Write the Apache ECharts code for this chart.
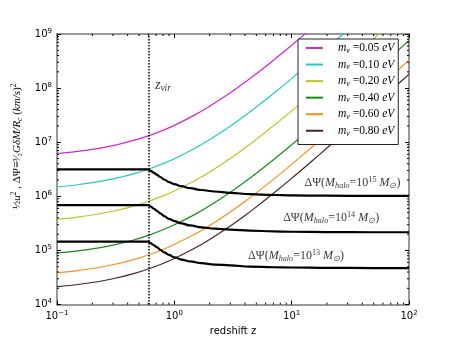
<!DOCTYPE html>
<html>
<head>
<meta charset="utf-8">
<script src="https://cdn.jsdelivr.net/npm/echarts@6/dist/echarts.min.js"></script>
<style>
html, body { margin: 0; padding: 0; background: #fff; }
#charts { width: 455px; height: 341px; }
</style>
</head>
<body>
<div id="charts"></div>
<script>
// redshift points used for the neutrino curves
var zNu = [0.1, 0.15, 0.2, 0.3, 0.45, 0.6, 0.8, 1, 1.5, 2, 3, 4, 5, 7, 10, 15, 20, 30, 50, 70, 100];
var nu005 = [6.2e6, 6.78e6, 7.38e6, 8.66e6, 1.08e7, 1.31e7, 1.66e7, 2.05e7, 3.2e7, 4.61e7, 8.2e7, 1.28e8, 1.84e8, 3.28e8, 6.2e8, 1.31e9];
var nu010 = [1.5e6, 1.64e6, 1.79e6, 2.1e6, 2.61e6, 3.17e6, 4.02e6, 4.96e6, 7.75e6, 1.12e7, 1.98e7, 3.1e7, 4.46e7, 7.93e7, 1.5e8, 3.17e8, 5.47e8, 1.19e9];
var nu020 = [3.8e5, 4.15e5, 4.52e5, 5.31e5, 6.6e5, 8.04e5, 1.02e6, 1.26e6, 1.96e6, 2.83e6, 5.02e6, 7.85e6, 1.13e7, 2.01e7, 3.8e7, 8.04e7, 1.39e8, 3.02e8, 8.17e8, 1.58e9];
var nu040 = [9.0e4, 9.84e4, 1.07e5, 1.26e5, 1.56e5, 1.9e5, 2.41e5, 2.98e5, 4.65e5, 6.69e5, 1.19e6, 1.86e6, 2.68e6, 4.76e6, 9.0e6, 1.9e7, 3.28e7, 7.15e7, 1.93e8, 3.75e8, 7.59e8];
var nu060 = [3.9e4, 4.26e4, 4.64e4, 5.45e4, 6.78e4, 8.25e4, 1.04e5, 1.29e5, 2.01e5, 2.9e5, 5.16e5, 8.06e5, 1.16e6, 2.06e6, 3.9e6, 8.25e6, 1.42e7, 3.1e7, 8.38e7, 1.62e8, 3.29e8];
var nu080 = [2.15e4, 2.35e4, 2.56e4, 3.0e4, 3.74e4, 4.55e4, 5.76e4, 7.11e4, 1.11e5, 1.6e5, 2.84e5, 4.44e5, 6.4e5, 1.14e6, 2.15e6, 4.55e6, 7.84e6, 1.71e7, 4.62e7, 8.96e7, 1.81e8];
var nuNames = ['m_ν =0.05 eV', 'm_ν =0.10 eV', 'm_ν =0.20 eV', 'm_ν =0.40 eV', 'm_ν =0.60 eV', 'm_ν =0.80 eV'];
var nuColors = ['#d126d1', '#26c8c8', '#c2c226', '#168c16', '#ff8c1a', '#4a2222'];

// halo potential curves
var zHalo = [0.1, 0.6, 0.63, 0.67, 0.71, 0.76, 0.82, 0.9, 1.0, 1.15, 1.36, 1.7, 2.2, 3, 4.4, 7, 10, 20, 50, 100];
var halo15 = [3.15e6, 3.15e6, 2.95e6, 2.72e6, 2.5e6, 2.28e6, 2.05e6, 1.84e6, 1.68e6, 1.54e6, 1.42e6, 1.31e6, 1.23e6, 1.16e6, 1.1e6, 1.06e6, 1.04e6, 1.03e6, 1.02e6, 1.02e6];
var halo14 = [6.9e5, 6.9e5, 6.45e5, 5.9e5, 5.4e5, 4.85e5, 4.3e5, 3.85e5, 3.5e5, 3.18e5, 2.9e5, 2.68e5, 2.53e5, 2.43e5, 2.33e5, 2.25e5, 2.22e5, 2.19e5, 2.17e5, 2.17e5];
var halo13 = [1.46e5, 1.46e5, 1.36e5, 1.25e5, 1.15e5, 1.03e5, 9.2e4, 8.3e4, 7.5e4, 6.8e4, 6.3e4, 5.85e4, 5.5e4, 5.3e4, 5.05e4, 4.9e4, 4.85e4, 4.78e4, 4.74e4, 4.73e4];
var haloExp = ['15', '14', '13'];
var haloLabelAt = [[33, 1.75e6], [21.7, 3.98e5], [10.9, 7.95e4]];

var zVir = 0.6;
var zVirLabelAt = [0.8, 1.12e8];

var xMinor = [0.2, 0.3, 0.4, 0.5, 0.6, 0.7, 0.8, 0.9, 2, 3, 4, 5, 6, 7, 8, 9, 20, 30, 40, 50, 60, 70, 80, 90];
var yMinor = [2e4, 3e4, 4e4, 5e4, 6e4, 7e4, 8e4, 9e4, 2e5, 3e5, 4e5, 5e5, 6e5, 7e5, 8e5, 9e5,
    2e6, 3e6, 4e6, 5e6, 6e6, 7e6, 8e6, 9e6, 2e7, 3e7, 4e7, 5e7, 6e7, 7e7, 8e7, 9e7,
    2e8, 3e8, 4e8, 5e8, 6e8, 7e8, 8e8, 9e8];

function pairs(xs, ys) {
    var out = [];
    for (var i = 0; i < ys.length; i++) out.push([xs[i], ys[i]]);
    return out;
}

var serif = 'Liberation Serif';
function mathRich(size) {
    return {
        t: { fontFamily: serif, fontSize: size, color: '#000', lineHeight: size + 2 },
        i: { fontFamily: serif, fontStyle: 'italic', fontSize: size, color: '#000', lineHeight: size + 2 },
        sub: { fontFamily: serif, fontStyle: 'italic', fontSize: size * 0.68, color: '#000', verticalAlign: 'bottom', lineHeight: 9 },
        sup: { fontFamily: serif, fontSize: size * 0.68, color: '#000', verticalAlign: 'top', lineHeight: 9 },
        g: { width: 10 }
    };
}
var tickRich = {
    b: { fontFamily: 'DejaVu Sans', fontSize: 10, color: '#000', lineHeight: 13 },
    e: { fontFamily: 'DejaVu Sans', fontSize: 7, color: '#000', verticalAlign: 'top', lineHeight: 8 }
};
function powLabel(v) {
    var e = Math.round(Math.log(v) / Math.LN10);
    return '{b|10}{e|' + (e < 0 ? '−' + (-e) : e) + '}';
}

var frame = { show: true, lineStyle: { color: '#777', width: 1.5 } };

function logAxis(pos, min, max, labels) {
    return {
        type: 'log', logBase: 10, min: min, max: max, position: pos,
        axisLine: frame,
        axisTick: { show: true, inside: true, length: 4, lineStyle: { color: '#000', width: 1 } },
        axisLabel: { show: labels, formatter: powLabel, rich: tickRich, margin: 5 },
        splitLine: { show: false }
    };
}

var xAxes = [logAxis('bottom', 0.1, 100, true), logAxis('top', 0.1, 100, false)];
xAxes[0].name = 'redshift z';
xAxes[0].nameLocation = 'middle';
xAxes[0].nameGap = 17;
xAxes[0].nameTextStyle = { fontFamily: 'DejaVu Sans', fontSize: 10, color: '#000' };

var yAxes = [logAxis('left', 1e4, 1e9, true), logAxis('right', 1e4, 1e9, false)];
yAxes[0].name = '{t|½}{i|u}{sup|2}{t| , ΔΨ≡}{t|³⁄₂}{i|GδM/R}{sub|c}{t| (}{i|km/s}{t|)}{sup|2}';
yAxes[0].nameLocation = 'middle';
yAxes[0].nameGap = 26;
yAxes[0].nameTextStyle = { rich: mathRich(11), padding: [0, 0, 0, 46] };

var nuData = [nu005, nu010, nu020, nu040, nu060, nu080];
var series = [];
nuData.forEach(function (vals, i) {
    series.push({
        name: nuNames[i], type: 'line', symbol: 'none', smooth: 0.3,
        lineStyle: { color: nuColors[i], width: 1.2 }, itemStyle: { color: nuColors[i] },
        data: pairs(zNu, vals), z: 2
    });
});
[halo15, halo14, halo13].forEach(function (vals, i) {
    var s = {
        name: 'halo' + haloExp[i], type: 'line', symbol: 'none', smooth: 0.4, smoothMonotone: 'x',
        lineStyle: { color: '#000', width: 2.2 }, itemStyle: { color: '#000' },
        data: pairs(zHalo, vals), z: 3
    };
    if (i === 0) {
        s.markLine = {
            silent: true, symbol: 'none', label: { show: false },
            lineStyle: { color: '#000', type: 'dotted', width: 1.5 },
            data: [{ xAxis: zVir }]
        };
    }
    series.push(s);
});

// minor ticks on all four sides, placed through the axes' own scales
series.push({
    type: 'custom', silent: true, z: 5,
    data: xMinor.map(function (v) { return [v, 1e4]; }),
    renderItem: function (params, api) {
        var b = api.coord([api.value(0), 1e4]);
        var t = api.coord([api.value(0), 1e9]);
        var st = { stroke: '#000', lineWidth: 1 };
        return { type: 'group', children: [
            { type: 'line', shape: { x1: b[0], y1: b[1], x2: b[0], y2: b[1] - 2 }, style: st },
            { type: 'line', shape: { x1: t[0], y1: t[1], x2: t[0], y2: t[1] + 2 }, style: st }
        ] };
    }
});
series.push({
    type: 'custom', silent: true, z: 5,
    data: yMinor.map(function (v) { return [0.1, v]; }),
    renderItem: function (params, api) {
        var l = api.coord([0.1, api.value(1)]);
        var r = api.coord([100, api.value(1)]);
        var st = { stroke: '#000', lineWidth: 1 };
        return { type: 'group', children: [
            { type: 'line', shape: { x1: l[0], y1: l[1], x2: l[0] + 2, y2: l[1] }, style: st },
            { type: 'line', shape: { x1: r[0], y1: r[1], x2: r[0] - 2, y2: r[1] }, style: st }
        ] };
    }
});

var labelData = haloLabelAt.map(function (p, i) {
    return {
        value: p,
        label: { formatter: '{t|ΔΨ(}{i|M}{sub|halo}{t|=10}{sup|' + haloExp[i] + '}{t| }{i|M}{sub|⊙}{t|)}' }
    };
});
labelData.push({ value: zVirLabelAt, label: { formatter: '{i|z}{sub|vir}', rich: mathRich(14) } });
series.push({
    name: 'labels', type: 'scatter', symbolSize: 0, silent: true,
    label: { show: true, position: 'inside', rich: mathRich(12) },
    data: labelData, z: 4
});

var myChart = echarts.init(document.getElementById('charts'));
var option = {
    animation: false,
    grid: { left: 57, right: 46, top: 34, bottom: 35 },
    legend: {
        data: nuNames, orient: 'vertical', left: 298, top: 39,
        padding: [3, 4, 7, 8], itemGap: 3.8, itemWidth: 17, itemHeight: 2, icon: 'rect',
        backgroundColor: '#fff', borderColor: '#222', borderWidth: 1,
        formatter: function (name) {
            var v = name.split('=')[1].split(' ')[0];
            return '{g|}{i|m}{sub|ν}{t| =' + v + ' }{i|eV}';
        },
        textStyle: { rich: mathRich(11.5) }
    },
    xAxis: xAxes,
    yAxis: yAxes,
    series: series
};
myChart.setOption(option);
</script>
</body>
</html>
